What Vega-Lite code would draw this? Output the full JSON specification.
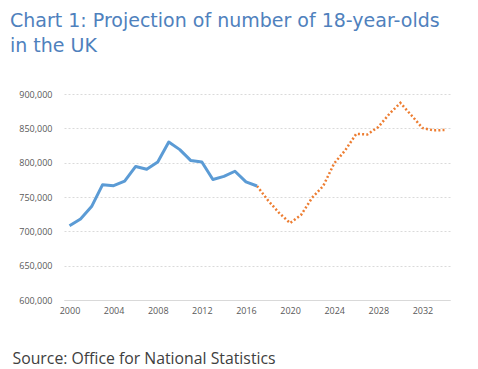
{
  "$schema": "https://vega.github.io/schema/vega-lite/v6.json",
  "width": 386,
  "height": 206,
  "autosize": "none",
  "padding": {"left": 64, "top": 94, "right": 28, "bottom": 69},
  "background": "white",
  "title": {
    "text": ["Chart 1: Projection of number of 18-year-olds", "in the UK"],
    "anchor": "start",
    "frame": "group",
    "dx": -54,
    "offset": 34,
    "font": "DejaVu Sans",
    "fontSize": 19,
    "fontWeight": "normal",
    "lineHeight": 25,
    "color": "#4f81bd"
  },
  "config": {
    "view": {"stroke": null},
    "axis": {"labelFont": "Open Sans", "labelFontSize": 9, "labelColor": "#595959"}
  },
  "data": {
    "values": [
      {"year": 2000, "value": 708000, "series": "Actual"},
      {"year": 2001, "value": 718000, "series": "Actual"},
      {"year": 2002, "value": 736000, "series": "Actual"},
      {"year": 2003, "value": 768000, "series": "Actual"},
      {"year": 2004, "value": 766500, "series": "Actual"},
      {"year": 2005, "value": 773000, "series": "Actual"},
      {"year": 2006, "value": 794500, "series": "Actual"},
      {"year": 2007, "value": 790500, "series": "Actual"},
      {"year": 2008, "value": 801000, "series": "Actual"},
      {"year": 2009, "value": 830000, "series": "Actual"},
      {"year": 2010, "value": 819000, "series": "Actual"},
      {"year": 2011, "value": 803000, "series": "Actual"},
      {"year": 2012, "value": 801000, "series": "Actual"},
      {"year": 2013, "value": 775500, "series": "Actual"},
      {"year": 2014, "value": 780000, "series": "Actual"},
      {"year": 2015, "value": 787500, "series": "Actual"},
      {"year": 2016, "value": 772000, "series": "Actual"},
      {"year": 2017, "value": 766000, "series": "Actual"},
      {"year": 2017, "value": 766000, "series": "Projection"},
      {"year": 2018, "value": 745000, "series": "Projection"},
      {"year": 2019, "value": 727000, "series": "Projection"},
      {"year": 2020, "value": 712000, "series": "Projection"},
      {"year": 2021, "value": 724000, "series": "Projection"},
      {"year": 2022, "value": 749000, "series": "Projection"},
      {"year": 2023, "value": 766000, "series": "Projection"},
      {"year": 2024, "value": 799000, "series": "Projection"},
      {"year": 2025, "value": 818000, "series": "Projection"},
      {"year": 2026, "value": 842000, "series": "Projection"},
      {"year": 2027, "value": 841000, "series": "Projection"},
      {"year": 2028, "value": 852000, "series": "Projection"},
      {"year": 2029, "value": 871000, "series": "Projection"},
      {"year": 2030, "value": 887000, "series": "Projection"},
      {"year": 2031, "value": 869000, "series": "Projection"},
      {"year": 2032, "value": 850500, "series": "Projection"},
      {"year": 2033, "value": 847000, "series": "Projection"},
      {"year": 2034, "value": 847500, "series": "Projection"}
    ]
  },
  "encoding": {
    "x": {
      "field": "year",
      "type": "quantitative",
      "scale": {"domain": [1999.5, 2034.5], "nice": false, "zero": false},
      "axis": {
        "values": [2000, 2004, 2008, 2012, 2016, 2020, 2024, 2028, 2032],
        "format": "d",
        "grid": false,
        "ticks": false,
        "domainColor": "#d9d9d9",
        "domainWidth": 1,
        "labelPadding": 6,
        "title": "Source: Office for National Statistics",
        "titleFont": "Open Sans",
        "titleFontSize": 15.8,
        "titleFontWeight": "normal",
        "titleColor": "#404040",
        "titleAnchor": "start",
        "titleAlign": "left",
        "titleBaseline": "alphabetic",
        "titleX": -52,
        "titleY": 63
      }
    },
    "y": {
      "field": "value",
      "type": "quantitative",
      "scale": {"domain": [600000, 900000], "nice": false},
      "axis": {
        "values": [600000, 650000, 700000, 750000, 800000, 850000, 900000],
        "format": ",d",
        "domain": false,
        "ticks": false,
        "grid": true,
        "gridColor": "#d0d0d0",
        "gridDash": [2, 2],
        "gridWidth": 0.8,
        "labelPadding": 12,
        "title": null
      }
    }
  },
  "layer": [
    {
      "transform": [{"filter": "datum.series === 'Projection'"}],
      "mark": {"type": "line", "color": "#ed7d31", "strokeWidth": 2.5, "strokeDash": [2, 2.2]}
    },
    {
      "transform": [{"filter": "datum.series === 'Actual'"}],
      "mark": {"type": "line", "color": "#5b9bd5", "strokeWidth": 3, "strokeJoin": "round"}
    }
  ]
}
